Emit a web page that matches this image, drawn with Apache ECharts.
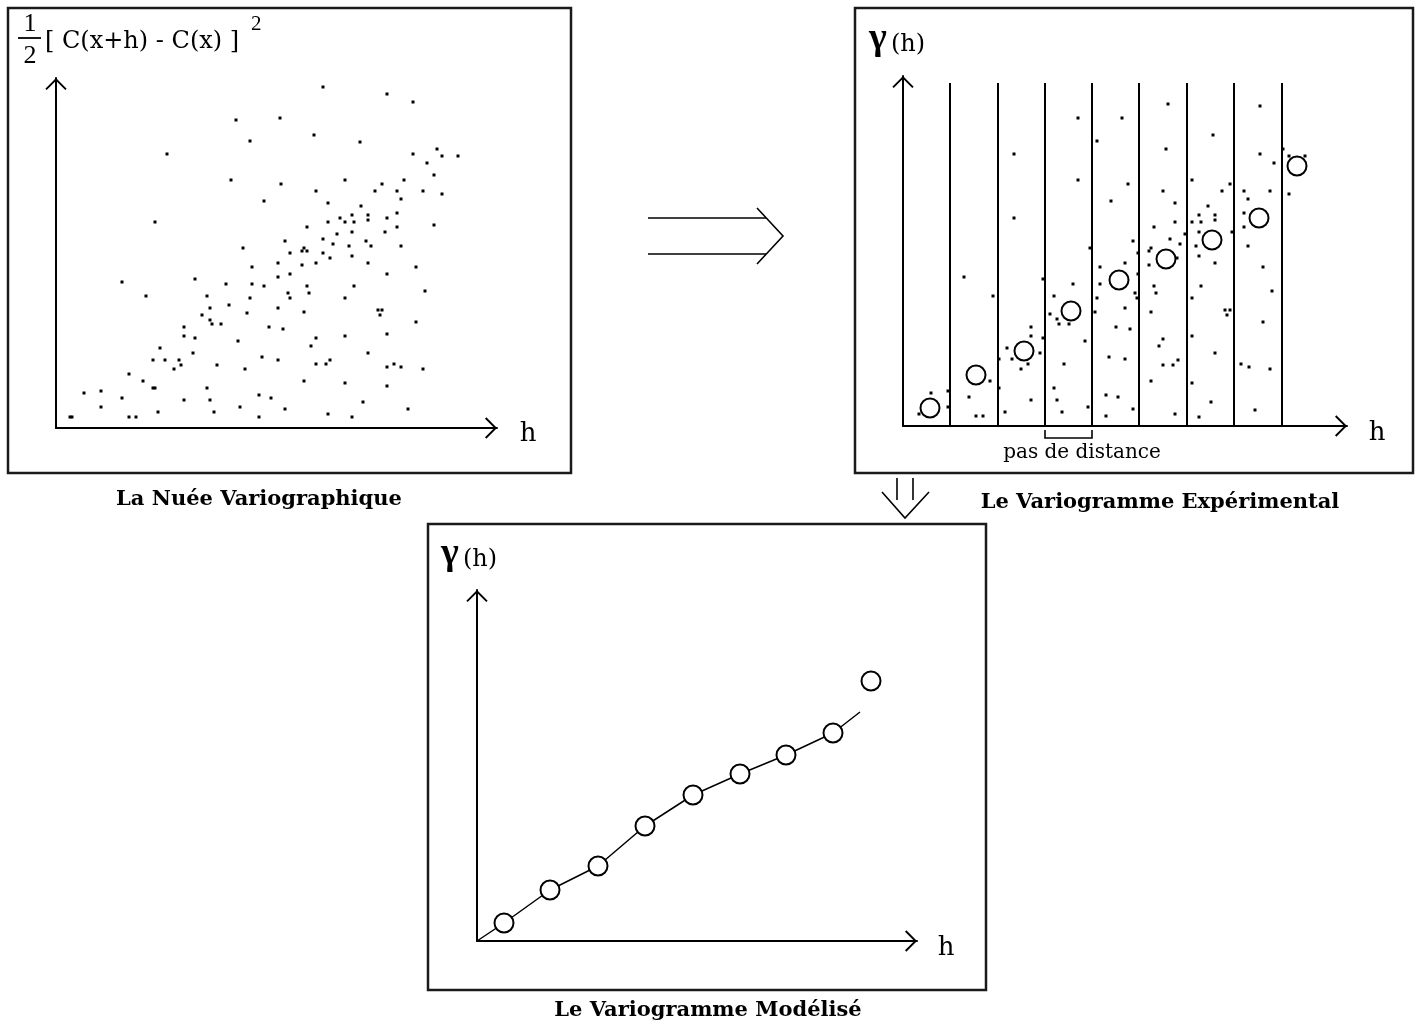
<!DOCTYPE html>
<html>
<head>
<meta charset="utf-8">
<script src="https://cdn.jsdelivr.net/npm/echarts@6/dist/echarts.min.js"></script>
<style>
html, body { margin: 0; padding: 0; background: #fff; }
#main { width: 1422px; height: 1025px; }
</style>
</head>
<body>
<div id="main"></div>
<script>
// Variogram cloud: [h, ½(C(x+h) − C(x))²] for every pair of samples
const cloudPoints = [
  [180,308],[224,310],[194,287],[111,274],[175,248],[225,244],[208,227],[99,206],[187,180],[229,187],
  [267,341],[331,334],[357,326],[258,293],[304,286],[357,274],[381,279],[386,272],[402,272],[371,265],
  [378,253],[289,248],[348,248],[326,244],[260,237],[319,237],[341,237],[367,237],[386,234],[345,229],
  [272,225],[305,222],[341,215],[284,210],[296,213],[312,213],[312,208],[331,210],[272,206],[289,206],
  [298,206],[251,201],[341,201],[378,203],[296,196],[281,194],[329,196],[267,189],[277,184],[293,182],
  [310,187],[315,182],[345,182],[248,180],[246,177],[251,177],[234,175],[267,175],[274,170],[296,172],
  [196,161],[222,165],[246,163],[260,165],[312,165],[360,161],[222,151],[234,154],[331,154],[196,144],
  [208,142],[251,142],[298,142],[232,135],[253,135],[194,130],[234,130],[289,130],[369,137],[222,120],
  [248,116],[322,118],[326,118],[324,113],[360,106],[213,101],[227,99],[260,90],[289,92],[331,94],
  [255,82],[312,75],[206,71],[222,68],[260,64],[270,64],[274,68],[331,61],[338,64],[345,61],
  [367,59],[248,47],[289,45],[331,42],[203,33],[215,30],[307,26],[229,19],[352,19],[203,11],
  [272,14],[296,11],[66,146],[90,132],[139,149],[151,132],[154,120],[146,113],[154,108],[156,104],
  [165,104],[170,144],[173,123],[191,115],[128,101],[128,92],[139,90],[104,80],[137,75],[182,87],
  [97,68],[109,68],[123,68],[125,63],[118,59],[161,63],[189,59],[73,54],[87,47],[97,40],
  [99,40],[28,35],[45,37],[66,30],[151,40],[128,28],[154,28],[45,21],[102,16],[158,16],
  [184,21],[14,11],[16,11],[73,11],[80,11]
];

// The same cloud, grouped into distance classes
const binnedCloud = [
  [175,308],[219,308],[194,285],[111,272],[175,246],[225,242],[208,225],[111,208],[230,185],[187,178],
  [265,322],[263,277],[310,291],[357,320],[357,272],[371,263],[380,277],[386,270],[402,270],[289,246],
  [327,242],[260,235],[319,235],[341,235],[367,235],[386,232],[272,223],[305,220],[345,227],[296,211],
  [312,211],[312,206],[289,204],[298,204],[341,213],[341,199],[272,204],[251,199],[296,194],[329,194],
  [282,192],[267,187],[277,182],[293,180],[345,180],[248,178],[246,175],[235,173],[274,168],[222,163],
  [246,161],[312,163],[360,159],[197,159],[235,152],[251,140],[253,133],[298,140],[369,135],[232,133],
  [234,128],[289,128],[197,142],[194,128],[192,114],[222,118],[213,99],[227,97],[206,69],[222,67],
  [203,31],[215,29],[203,10],[230,17],[248,114],[260,87],[256,80],[260,61],[270,61],[275,66],
  [248,45],[272,12],[296,170],[322,116],[327,116],[324,111],[289,90],[312,73],[289,43],[308,24],
  [296,9],[360,104],[338,62],[346,59],[367,57],[352,16],[28,33],[16,12],[45,35],[45,19],
  [61,149],[90,130],[87,45],[66,29],[73,10],[80,10],[96,67],[96,38],[128,99],[128,90],
  [104,78],[109,67],[118,57],[125,62],[137,73],[128,26],[102,14],[140,147],[140,88],[170,142],
  [151,130],[147,112],[154,107],[156,102],[166,102],[182,85],[161,62],[151,38],[154,26],[159,14],
  [185,19]
];

// Boundaries of the distance classes (pas de distance)
const lagEdges = [47, 95, 142, 189, 236, 284, 331, 379];
const lagTop = 343;

// Experimental variogram: mean of each class
const expH = [27, 73, 121, 168, 216, 263, 309, 356, 394];
const expG = [18, 51, 75, 115, 146, 167, 186, 208, 260];

// Fitted model
const modelH = [0, 27, 73, 121, 168, 216, 263, 309, 356, 383];
const modelG = [0, 18, 51, 75, 115, 146, 167, 186, 208, 229];

const ink = '#000';
const serif = '"Liberation Serif", "DejaVu Serif", serif';
const wideSerif = '"DejaVu Serif", "Liberation Serif", serif';

// open chevron used as the arrow head of every axis
const chevron = 'path://M0,11 L11,0 L22,11 L20.6,12.4 L11,2.8 L1.4,12.4 Z';

function axis(gridIndex, max) {
  return {
    type: 'value', gridIndex, min: 0, max,
    axisLine: {
      show: true, onZero: false,
      symbol: ['none', chevron], symbolSize: [22, 12], symbolOffset: [0, -6],
      lineStyle: { color: ink, width: 2 }
    },
    axisTick: { show: false }, axisLabel: { show: false }, splitLine: { show: false }
  };
}

const pairs = (xs, ys) => xs.map((x, i) => [x, ys[i]]);

const dotStyle = { symbol: 'rect', symbolSize: 3, itemStyle: { color: ink, opacity: 1 } };
const ringStyle = {
  symbol: 'circle', symbolSize: 19,
  itemStyle: { color: '#fff', borderColor: ink, borderWidth: 2, opacity: 1 }, z: 5
};

function box(x, y, w, h) {
  return { type: 'rect', shape: { x, y, width: w, height: h },
    style: { fill: 'none', stroke: '#1a1a1a', lineWidth: 2.5 }, silent: true };
}
function text(x, y, str, font, align) {
  return { type: 'text', x, y, silent: true,
    style: { text: str, font, fill: ink, align: align || 'center', verticalAlign: 'middle',
             textAlign: align || 'center', textVerticalAlign: 'middle' } };
}
function poly(points, width) {
  return { type: 'polyline', shape: { points }, silent: true,
    style: { stroke: ink, lineWidth: width || 1.6, fill: 'none' } };
}

const chart = echarts.init(document.getElementById('main'), null, { renderer: 'canvas' });

chart.setOption({
  animation: false,
  backgroundColor: '#fff',
  grid: [
    { left: 56, top: 78, width: 441, height: 350 },
    { left: 903, top: 76, width: 444, height: 350 },
    { left: 477, top: 590, width: 440, height: 351 }
  ],
  xAxis: [axis(0, 441), axis(1, 444), axis(2, 440)],
  yAxis: [axis(0, 350), axis(1, 350), axis(2, 351)],
  series: [
    Object.assign({ type: 'scatter', xAxisIndex: 0, yAxisIndex: 0, data: cloudPoints }, dotStyle),
    Object.assign({
      type: 'scatter', xAxisIndex: 1, yAxisIndex: 1, data: binnedCloud,
      markLine: {
        silent: true, symbol: ['none', 'none'], label: { show: false },
        lineStyle: { color: ink, width: 2, type: 'solid', opacity: 1 },
        data: lagEdges.map(x => [{ coord: [x, 0] }, { coord: [x, lagTop] }])
      }
    }, dotStyle),
    Object.assign({ type: 'scatter', xAxisIndex: 1, yAxisIndex: 1, data: pairs(expH, expG) }, ringStyle),
    {
      type: 'line', xAxisIndex: 2, yAxisIndex: 2, data: pairs(modelH, modelG),
      showSymbol: false, lineStyle: { color: ink, width: 1.5 }, z: 3
    },
    Object.assign({ type: 'scatter', xAxisIndex: 2, yAxisIndex: 2, data: pairs(expH, expG) }, ringStyle)
  ]
});

// bracket under one distance class
const b0 = chart.convertToPixel({ gridIndex: 1 }, [lagEdges[2], 0]);
const b1 = chart.convertToPixel({ gridIndex: 1 }, [lagEdges[3], 0]);

chart.setOption({
  graphic: [
    box(8, 8, 563, 465),
    box(855, 8, 558, 465),
    box(428, 524, 558, 466),

    // axis names
    text(30, 24, '1', '26px ' + serif),
    poly([[18, 38], [41, 38]], 1.8),
    text(30, 56, '2', '26px ' + serif),
    text(45, 42, '[ C(x+h) - C(x) ]', '24px ' + wideSerif, 'left'),
    text(251, 24, '2', '21px ' + serif, 'left'),
    text(528, 434, 'h', '26px ' + wideSerif),

    text(878, 39, 'γ', 'bold 38px ' + serif),
    text(891, 45, '(h)', '24px ' + wideSerif, 'left'),
    text(1377, 433, 'h', '26px ' + wideSerif),

    text(450, 554, 'γ', 'bold 38px ' + serif),
    text(463, 560, '(h)', '24px ' + wideSerif, 'left'),
    text(946, 948, 'h', '26px ' + wideSerif),

    // distance class bracket
    poly([[b0[0], b0[1] + 4], [b0[0], b0[1] + 12], [b1[0], b1[1] + 12], [b1[0], b1[1] + 4]], 1.6),
    text(1082, 453, 'pas de distance', '20px ' + wideSerif),

    // arrows between the panels
    poly([[648, 218], [766, 218]], 1.6),
    poly([[648, 254], [766, 254]], 1.6),
    poly([[757, 208], [783, 236], [757, 264]], 1.6),
    poly([[897, 478], [897, 500]], 1.6),
    poly([[913, 478], [913, 500]], 1.6),
    poly([[882, 492], [905, 518], [929, 492]], 1.6),

    // titles
    text(259, 500, 'La Nuée Variographique', 'bold 21px ' + wideSerif),
    text(1160, 503, 'Le Variogramme Expérimental', 'bold 21px ' + wideSerif),
    text(708, 1011, 'Le Variogramme Modélisé', 'bold 21px ' + wideSerif)
  ]
});
</script>
</body>
</html>
